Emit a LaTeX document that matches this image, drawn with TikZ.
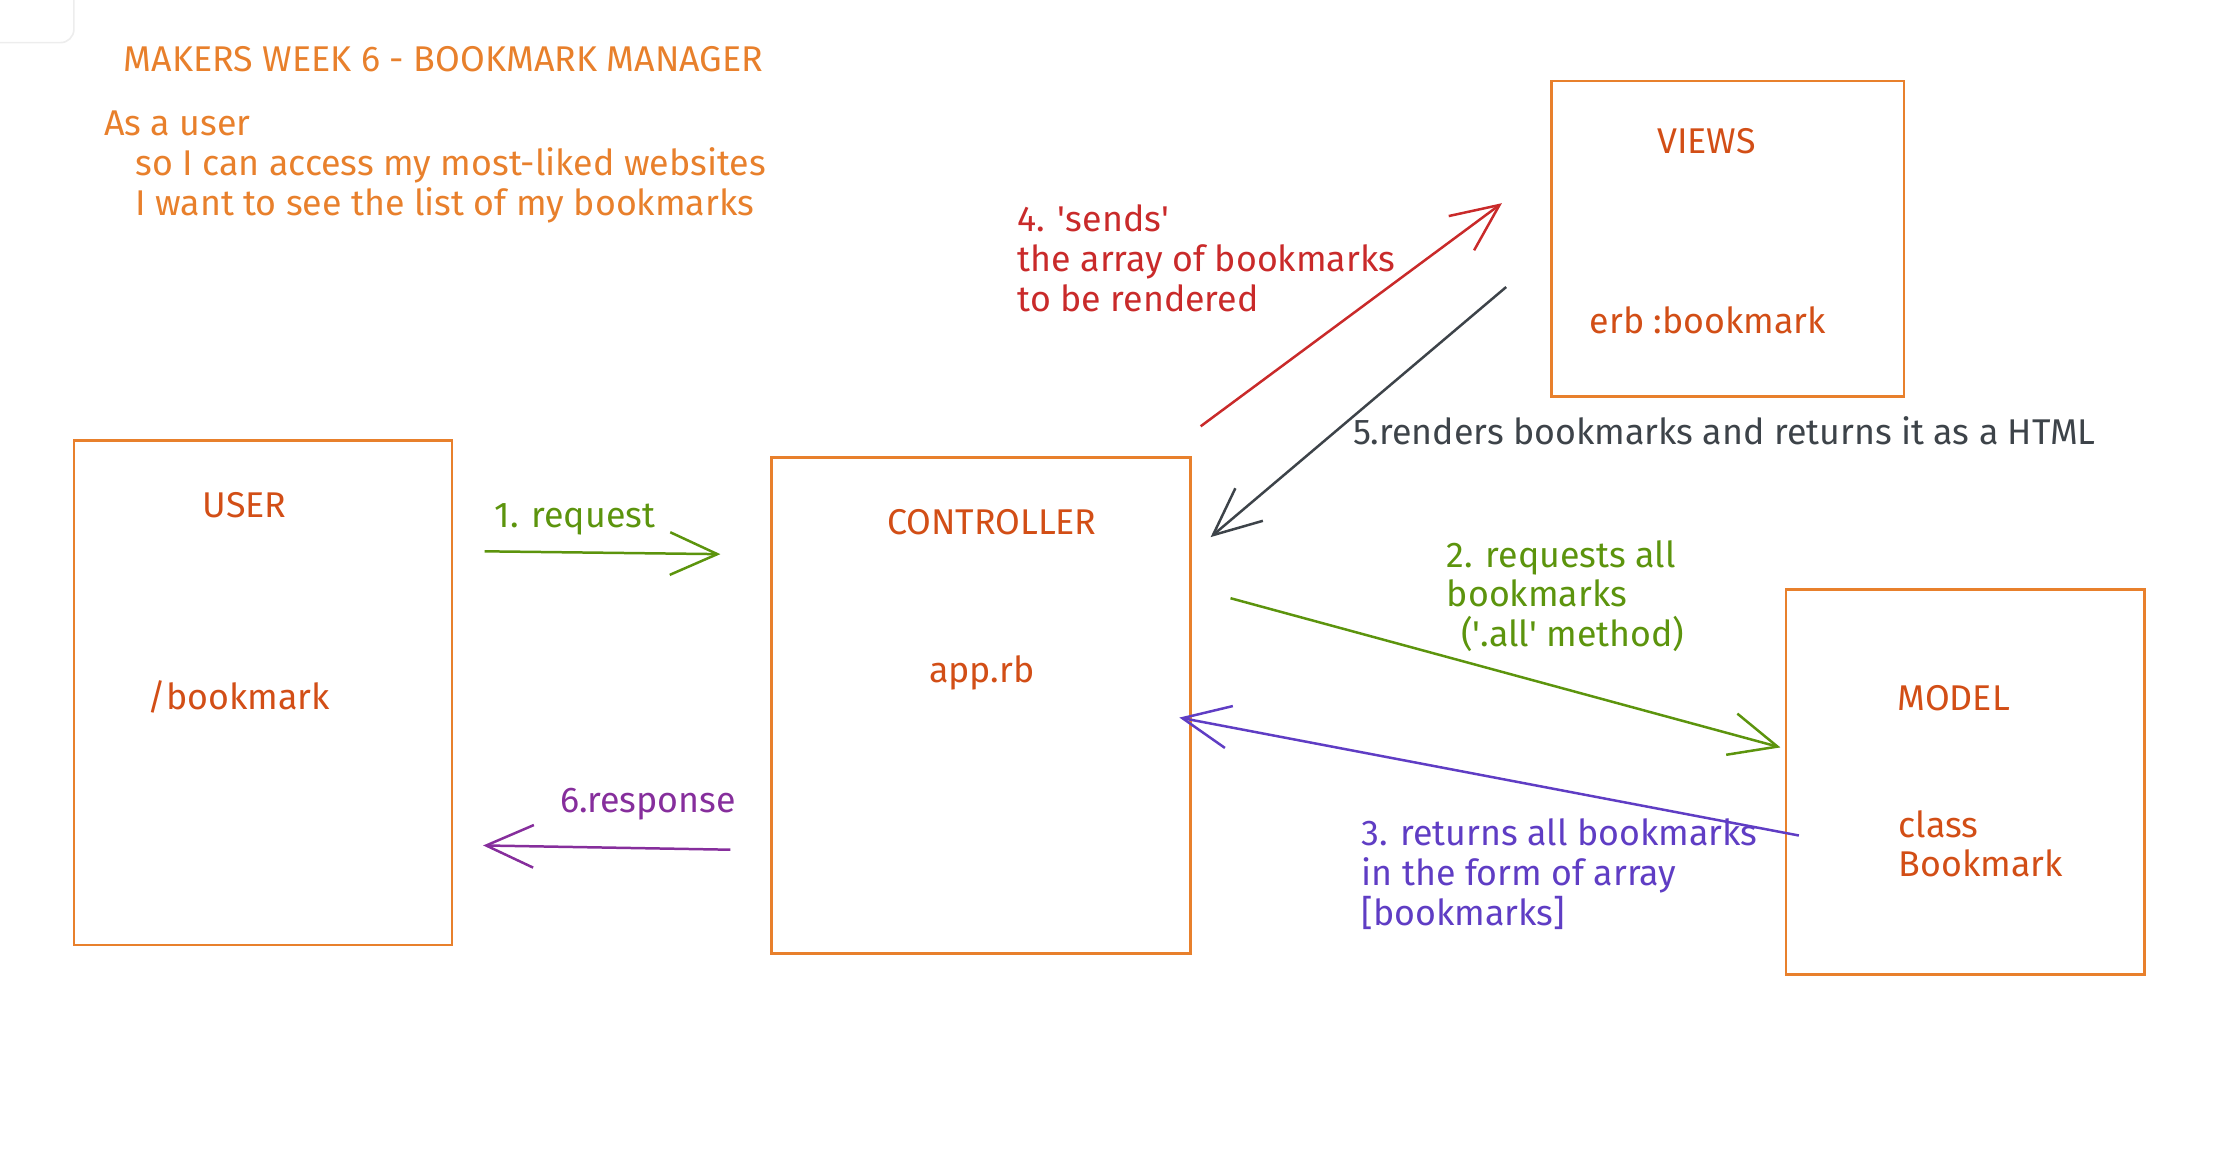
\documentclass[tikz,border=0pt]{standalone}
\usepackage{fontspec}
\setmainfont{Fira Sans}
\usetikzlibrary{arrows.meta}
\definecolor{boxorange}{HTML}{E8802C}
\definecolor{labelorange}{HTML}{D24E16}
\definecolor{stepgreen}{HTML}{5C940D}
\definecolor{stepviolet}{HTML}{5F3DC4}
\definecolor{stepgrape}{HTML}{862E9C}
\definecolor{stepred}{HTML}{C92A2A}
\definecolor{stepgray}{HTML}{3D4349}
\tikzset{
  txt/.style={inner sep=0pt, font=\fontsize{21.5}{23.9}\selectfont},
  layer/.style={draw=boxorange, line width=1.6pt, inner sep=0pt},
  flow/.style={line width=1.5pt, -{Straight Barb[length=1cm,width=0.9cm]}},
}
\begin{document}
\begin{tikzpicture}[x=0.03cm,y=-0.03cm]
\useasboundingbox (0,0) rectangle (1568,816);
\draw[black!7, line width=1pt, rounded corners=8pt] (0,30) -- (52,30) -- (52,0);
% title and user story
\node[txt, text=boxorange, anchor=base west] (title) at (87,50) {MAKERS WEEK 6 - BOOKMARK MANAGER};
\node[txt, text=boxorange, anchor=north west, align=left] (story) at (73,78) {As a user\\\hspace*{0.66cm}so I can access my most-liked websites\\\hspace*{0.66cm}I want to see the list of my bookmarks};
% the four boxes
\node[layer, minimum width=7.98cm, minimum height=10.65cm] (user) at (185,487.5) {};
\node[layer, minimum width=8.85cm, minimum height=10.47cm] (controller) at (690.5,496.5) {};
\node[layer, minimum width=7.44cm, minimum height=6.66cm] (views) at (1216,168) {};
\node[layer, minimum width=7.56cm, minimum height=8.13cm] (model) at (1383,550.5) {};
\node[txt, text=labelorange, anchor=base] (userName) at (172,364) {USER};
\node[txt, text=labelorange, anchor=base] (userRoute) at (168,499) {/bookmark};
\node[txt, text=labelorange, anchor=base] (controllerName) at (698,376) {CONTROLLER};
\node[txt, text=labelorange, anchor=base] (controllerFile) at (691,480) {app.rb};
\node[txt, text=labelorange, anchor=base] (viewsName) at (1201,108) {VIEWS};
\node[txt, text=labelorange, anchor=base] (viewsErb) at (1202,235) {erb :bookmark};
\node[txt, text=labelorange, anchor=base] (modelName) at (1375,500) {MODEL};
\node[txt, text=labelorange, anchor=north west, align=left] (modelClass) at (1336,570) {class\\Bookmark};
% arrows
\coordinate (reqA) at (341,388);
\coordinate (reqB) at (507,390);
\coordinate (allA) at (866,421);
\coordinate (allB) at (1253,526);
\coordinate (retA) at (1266,588);
\coordinate (retB) at (830,505);
\coordinate (sendA) at (845,300);
\coordinate (sendB) at (1057,143);
\coordinate (rendA) at (1060,202);
\coordinate (rendB) at (852,378);
\coordinate (respA) at (514,598);
\coordinate (respB) at (340,595);
\draw[flow, stepgreen] (reqA) -- (reqB);
\draw[flow, stepgreen] (allA) -- (allB);
\draw[flow, stepviolet] (retA) -- (retB);
\draw[flow, stepred] (sendA) -- (sendB);
\draw[flow, stepgray] (rendA) -- (rendB);
\draw[flow, stepgrape] (respA) -- (respB);
\node[txt, text=stepgreen, anchor=base west] (reqText) at (348,371) {1. request};
\node[txt, text=stepgreen, anchor=north west, align=left] (allText) at (1018,380) {2. requests all\\bookmarks\\\hspace*{0.3cm}(\textquotesingle.all\textquotesingle{} method)};
\node[txt, text=stepviolet, anchor=north west, align=left] (retText) at (958,576) {3. returns all bookmarks\\in the form of array\\{[bookmarks]}};
\node[txt, text=stepred, anchor=north west, align=left] (sendText) at (716,144) {4. \textquotesingle sends\textquotesingle\\the array of bookmarks\\to be rendered};
\node[txt, text=stepgray, anchor=base west] (rendText) at (952,313) {5.renders bookmarks and returns it as a HTML};
\node[txt, text=stepgrape, anchor=base west] (respText) at (394,572) {6.response};
\end{tikzpicture}
\end{document}
